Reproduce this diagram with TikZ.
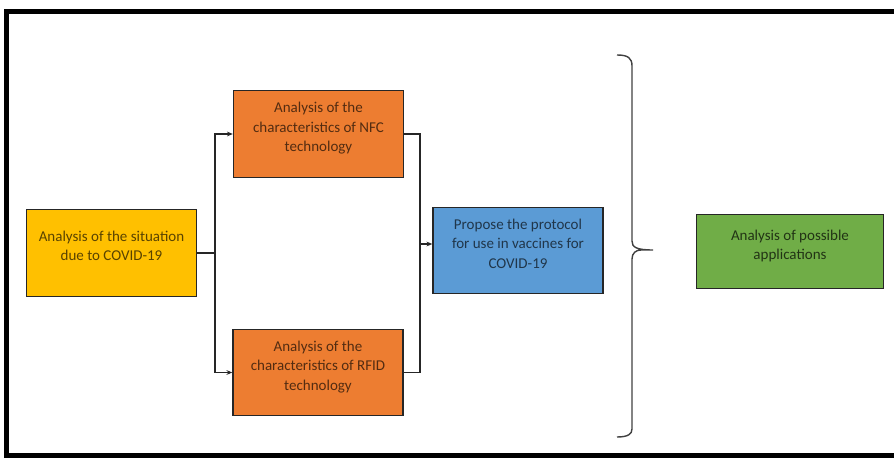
\documentclass[tikz,border=0pt]{standalone}
\usepackage{fontspec}
\setmainfont{Carlito}
\usetikzlibrary{positioning,arrows.meta}
\definecolor{boxYellow}{HTML}{FFC000}
\definecolor{boxOrange}{HTML}{ED7D31}
\definecolor{boxBlue}{HTML}{5B9BD5}
\definecolor{boxGreen}{HTML}{70AD47}

\begin{document}
\begin{tikzpicture}[
    x=0.03cm, y=-0.03cm,
    baseBox/.style={rectangle, draw=black!85, line width=1.1pt, align=center, inner sep=2pt, text depth=12pt, minimum width=5.1cm, minimum height=2.6cm, font=\fontsize{12.8}{16.5}\selectfont},
    situationBox/.style={baseBox, fill=boxYellow, text=boxYellow!35!black},
    techBox/.style={baseBox, fill=boxOrange, text=boxOrange!35!black},
    protocolBox/.style={baseBox, fill=boxBlue, text=boxBlue!35!black},
    appsBox/.style={baseBox, fill=boxGreen, text=boxGreen!30!black, minimum width=5.6cm, minimum height=2.2cm},
    link/.style={line width=1pt, draw=black!85},
    brace/.style={line width=1.2pt, draw=black!75}
]
    \useasboundingbox (0,0) rectangle (894,458);
    \clip (0,0) rectangle (894,458);

    % Cornice esterna
    \draw[line width=0.15cm] (6,12) rectangle (910,455);

    % Blocchi del flusso
    \node[situationBox] (situation) at (111.5,253) {Analysis of the situation\\due to COVID-19};
    \node[techBox] (nfc) at (318.5,134) {Analysis of the\\characteristics of NFC\\technology};
    \node[techBox] (rfid) at (318,372.5) {Analysis of the\\characteristics of RFID\\technology};
    \node[protocolBox] (protocol) at (518,250.5) {Propose the protocol\\for use in vaccines for\\COVID-19};
    \node[appsBox] (apps) at (790,251.5) {Analysis of possible\\applications};

    % Diramazione verso NFC e RFID
    \coordinate (split) at (215,253);
    \draw[link] (situation.east) -- (split);
    \draw[link, -{Stealth[length=5pt, width=4pt]}] (split) |- (nfc.west);
    \draw[link, -{Stealth[length=5pt, width=4pt]}] (split) |- (rfid.west);

    % Confluenza verso il protocollo
    \coordinate (merge) at (420,244);
    \draw[link] (nfc.east) -| (merge);
    \draw[link] (rfid.east) -| (merge);
    \draw[link, -{Stealth[length=5pt, width=4pt]}] (merge) -- (protocol.west |- merge);

    % Parentesi graffa
    \draw[brace] (617,55) .. controls (628,55) and (632,58) .. (632,66) -- (632,241)
        .. controls (632,247) and (636,250) .. (653,250) -- (641,250)
        .. controls (636,250) and (632,253) .. (632,259) -- (632,429)
        .. controls (632,434) and (628,437) .. (617,437);
\end{tikzpicture}
\end{document}
